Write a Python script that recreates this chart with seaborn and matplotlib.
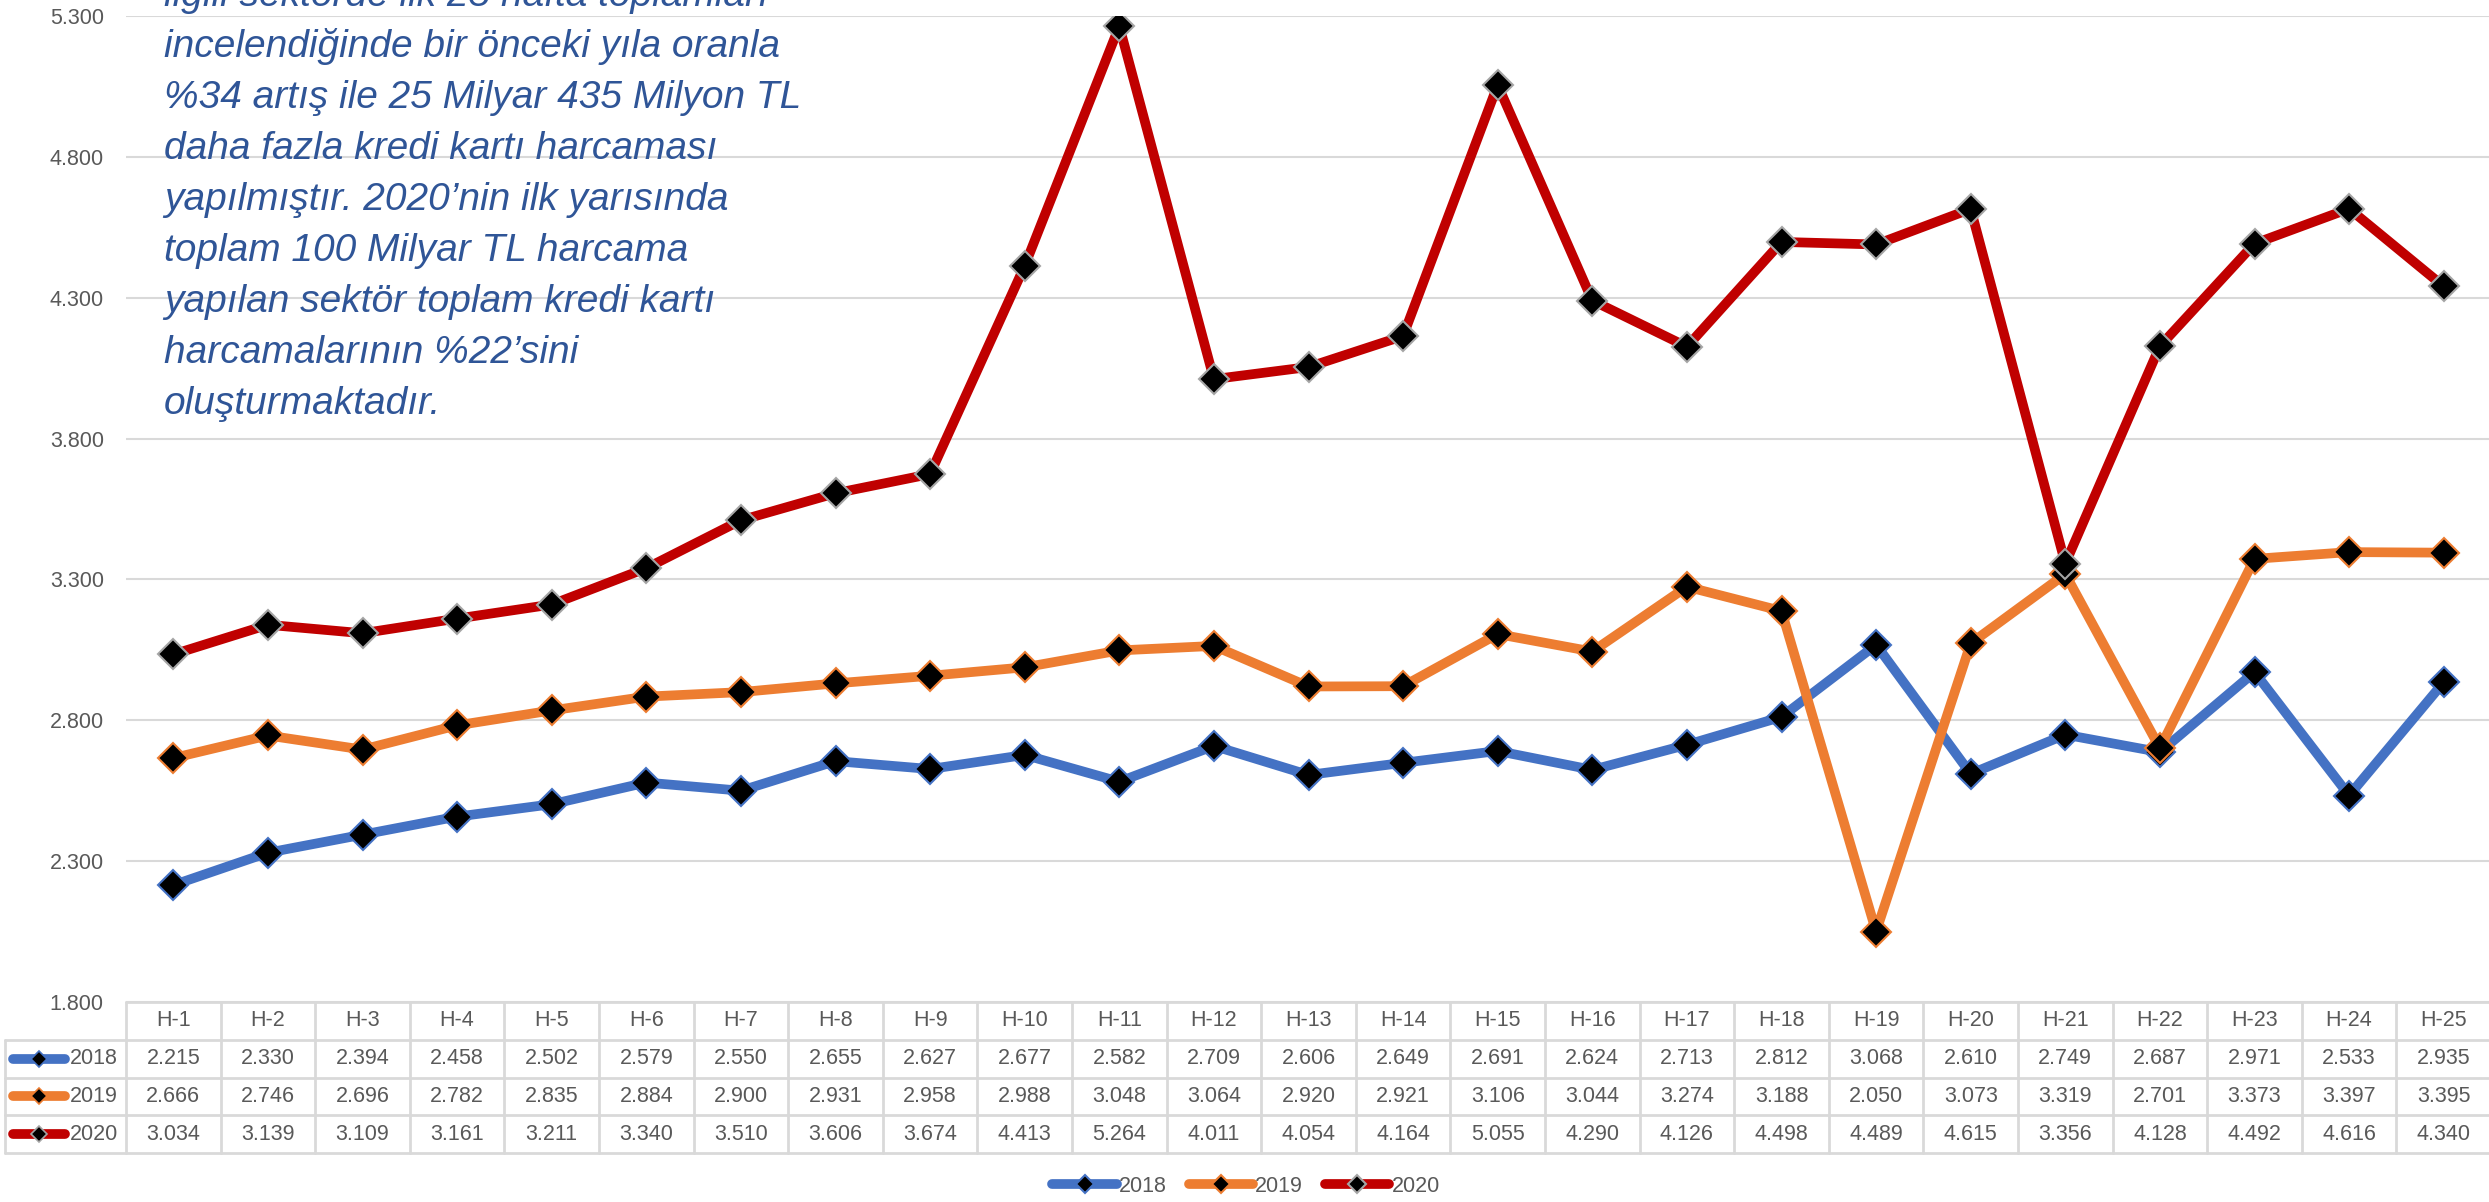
import numpy as np
import pandas as pd
import matplotlib
matplotlib.use("Agg")
import matplotlib.pyplot as plt
import seaborn as sns

weeks = [f"H-{i}" for i in range(1, 26)]
years = ["2018", "2019", "2020"]
v2018 = [2.215, 2.330, 2.394, 2.458, 2.502, 2.579, 2.550, 2.655, 2.627, 2.677, 2.582, 2.709, 2.606,
         2.649, 2.691, 2.624, 2.713, 2.812, 3.068, 2.610, 2.749, 2.687, 2.971, 2.533, 2.935]
v2019 = [2.666, 2.746, 2.696, 2.782, 2.835, 2.884, 2.900, 2.931, 2.958, 2.988, 3.048, 3.064, 2.920,
         2.921, 3.106, 3.044, 3.274, 3.188, 2.050, 3.073, 3.319, 2.701, 3.373, 3.397, 3.395]
v2020 = [3.034, 3.139, 3.109, 3.161, 3.211, 3.340, 3.510, 3.606, 3.674, 4.413, 5.264, 4.011, 4.054,
         4.164, 5.055, 4.290, 4.126, 4.498, 4.489, 4.615, 3.356, 4.128, 4.492, 4.616, 4.340]
yticks = [1.8, 2.3, 2.8, 3.3, 3.8, 4.3, 4.8, 5.3]

note_lines = ["ilgili sektörde ilk 25 hafta toplamları",
              "incelendiğinde bir önceki yıla oranla",
              "%34 artış ile 25 Milyar 435 Milyon TL",
              "daha fazla kredi kartı harcaması",
              "yapılmıştır. 2020’nin ilk yarısında",
              "toplam 100 Milyar TL harcama",
              "yapılan sektör toplam kredi kartı",
              "harcamalarının %22’sini",
              "oluşturmaktadır."]

line_colors = {"2018": "#4472C4", "2019": "#ED7D31", "2020": "#C00000"}
edge_colors = {"2018": "#4472C4", "2019": "#ED7D31", "2020": "#A5A5A5"}
values = {"2018": v2018, "2019": v2019, "2020": v2020}

sns.set_theme(style="white")
plt.rcParams['font.family'] = ['Liberation Sans', 'DejaVu Sans']
grey_txt = "#595959"
grid_c = "#D9D9D9"
fs = 15.5

W, H = 2489, 1202
fig = plt.figure(figsize=(W / 100, H / 100), dpi=100)
left_px, right_px, top_px, bot_px = 126, 2491, 16, 1002
col_w = (right_px - left_px) / 25
ax = fig.add_axes([left_px / W, 1 - bot_px / H, (right_px - left_px) / W, (bot_px - top_px) / H])

for y in years:
    df = pd.DataFrame({"week": weeks, "value": values[y]})
    sns.lineplot(data=df, x="week", y="value", ax=ax, color=line_colors[y], lw=7,
                 marker="D", markersize=15, markerfacecolor="black",
                 markeredgecolor=edge_colors[y], markeredgewidth=1.5,
                 solid_capstyle="round", solid_joinstyle="round", label=y, zorder=3)

ax.set_xlim(-0.5, 24.5)
ax.set_ylim(1.8, 5.3)
ax.set_yticks(yticks)
ax.set_yticklabels([f"{t:.3f}" for t in yticks], color=grey_txt, fontsize=fs)
ax.tick_params(axis="y", length=0, pad=16)
ax.set_xticks([])
ax.set_xlabel("")
ax.set_ylabel("")
ax.grid(axis="y", color=grid_c, lw=1.5)
ax.set_axisbelow(True)
for s in ax.spines.values():
    s.set_visible(False)
handles, labels = ax.get_legend_handles_labels()
ax.get_legend().remove()

# note text box (first line cut by the top edge, as in the source)
for k, txt in enumerate(note_lines):
    fig.text(164 / W, 1 - (6 + 51 * k) / H, txt, ha="left", va="baseline", style="italic",
             fontsize=28, color="#2F5597")

# data table below the chart
tb_top, tb_bot = 1002, 1153
tab = fig.add_axes([left_px / W, 1 - tb_bot / H, (right_px - left_px) / W, (tb_bot - tb_top) / H])
tab.set_xlim(-0.5, 24.5)
tab.set_ylim(4, 0)
tab.axis("off")


def px2x(px):
    return -0.5 + (px - left_px) / col_w


x0 = px2x(5)
for r in range(1, 5):
    tab.plot([x0, 24.5], [r, r], color=grid_c, lw=2, clip_on=False)
tab.plot([-0.5, 24.5], [0, 0], color=grid_c, lw=2, clip_on=False)
tab.plot([x0, x0], [1, 4], color=grid_c, lw=2, clip_on=False)
for c in range(26):
    tab.plot([c - 0.5, c - 0.5], [0, 4], color=grid_c, lw=2, clip_on=False)
for i, w in enumerate(weeks):
    tab.text(i, 0.5, w, ha="center", va="center", fontsize=fs, color=grey_txt)
for r, y in enumerate(years, start=1):
    for i, v in enumerate(values[y]):
        tab.text(i, r + 0.5, f"{v:.3f}", ha="center", va="center", fontsize=fs, color=grey_txt)
    sw0, sw1 = px2x(13), px2x(65)
    tab.plot([sw0, sw1], [r + 0.5, r + 0.5], color=line_colors[y], lw=7,
             solid_capstyle="round", clip_on=False)
    tab.plot([px2x(39)], [r + 0.5], marker="D", ms=8, mfc="black",
             mec=edge_colors[y], mew=1.2, clip_on=False)
    tab.text(px2x(118), r + 0.5, y, ha="right", va="center", fontsize=fs, color=grey_txt)

fig.legend(handles, labels, loc="center", bbox_to_anchor=(1246 / W, 1 - 1186 / H),
           ncol=3, frameon=False, fontsize=fs, handlelength=3.0, columnspacing=1.0,
           handletextpad=0.1, labelcolor=grey_txt, markerscale=0.6)

fig.savefig("out.png", dpi=100)
